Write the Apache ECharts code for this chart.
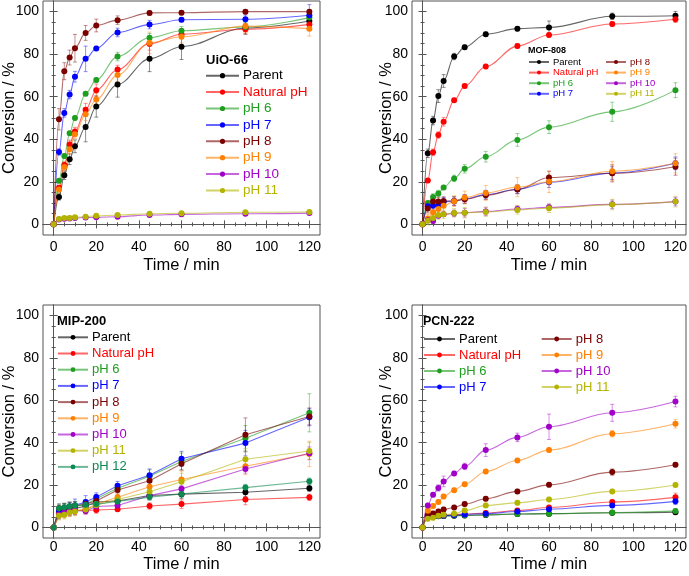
<!DOCTYPE html>
<html><head><meta charset="utf-8">
<script src="https://cdn.jsdelivr.net/npm/echarts@6/dist/echarts.min.js"></script>
<style>html,body{margin:0;padding:0;background:#fff}#c{width:689px;height:576px}</style>
</head><body><div id="c"></div>
<script>
// ---------- shared ----------
const times = [0, 2.5, 5, 7.5, 10, 15, 20, 30, 45, 60, 90, 120];
const xTickLabels = [0, 20, 40, 60, 80, 100, 120];
const yTickLabels = [0, 20, 40, 60, 80, 100];
const xMinorTicks = [5,10,15,25,30,35,45,50,55,65,70,75,85,90,95,105,110,115];
const yMinorTicks = [5,10,15,25,30,35,45,50,55,65,70,75,85,90,95];
const seriesColors = {
  'Parent':'#000000','Natural pH':'#ff0000','pH 6':'#1e9e1e','pH 7':'#0000ff',
  'pH 8':'#7a0000','pH 9':'#ff8000','pH 10':'#a000c8','pH 11':'#b4b400','pH 12':'#0b8a52'
};

// ---------- UiO-66 ----------
const uio_parent  = [0,12.9,23.1,30.6,36.7,45.8,55.4,65.8,77.8,83.5,92.3,95.6];
const uio_natural = [0,17.2,27.9,37.6,43.6,53.9,63.0,72.8,84.9,89.4,91.7,94.0];
const uio_pH6     = [0,20.5,32.1,42.8,50.0,61.4,67.9,78.9,87.7,91.0,92.8,97.2];
const uio_pH7     = [0,34.0,52.4,61.0,69.4,77.8,82.7,90.2,93.9,96.2,96.4,98.3];
const uio_pH8     = [0,49.4,72.0,78.4,82.8,90.0,93.5,96.0,99.4,99.5,100,100];
const uio_pH9     = [0,16.4,27.0,35.3,42.4,51.8,58.7,70.2,85.4,88.2,93.2,92.0];
const uio_pH10    = [0,2.3,2.6,2.8,3.0,3.2,3.3,3.6,4.4,4.7,5.0,5.3];
const uio_pH11    = [0,2.5,3.0,3.0,3.3,3.6,4.0,4.4,5.0,5.2,5.7,5.8];
const uio_err_parent  = [0,1.5,2,2.5,3,7,5,6,6,6,3,3];
const uio_err_natural = [0,1,1.5,2,2,3,3,2,3,2,2,2];
const uio_err_pH6     = [0,1,1,1,1,1,1,2,2,2,2,2];
const uio_err_pH7     = [0,1.5,2,2,2.5,6,1,2,2,1,2,5];
const uio_err_pH8     = [0,5,4,3.5,6.5,3.5,3,2,1,1,1,1];
const uio_err_pH9     = [0,1.5,2,2,2,3,3,3,5,3,3,3.5];
const uio_err_pH10    = [0,0.5,0.5,0.5,0.5,0.5,0.5,0.5,0.5,0.5,0.5,0.5];
const uio_err_pH11    = [0,0.5,0.5,0.5,0.5,0.5,0.5,0.5,0.5,0.5,0.5,0.5];

// ---------- MOF-808 ----------
const mof_parent  = [0,33.4,48.8,60.3,67.4,78.9,83.3,89.4,92.0,92.6,97.8,98.1];
const mof_natural = [0,20.6,33.9,42.0,48.2,58.3,65.0,74.2,83.8,89.0,94.2,96.4];
const mof_pH6     = [0,10.1,12.9,14.5,17.3,21.6,26.1,31.8,39.7,45.7,52.9,63.1];
const mof_pH7     = [0,8.5,8.7,9.1,10.6,11.0,12.0,14.0,16.5,19.8,24.1,28.7];
const mof_pH8     = [0,7.4,10.7,10.7,11.0,10.9,11.8,13.7,16.4,22.0,24.0,27.1];
const mof_pH9     = [0,2.7,5.7,7.2,8.7,10.9,12.6,14.8,17.5,20.0,25.0,28.7];
const mof_pH10    = [0,1.9,1.6,4.1,4.7,5.2,5.5,6.1,7.2,8.0,9.4,10.7];
const mof_pH11    = [0,1.7,3.0,4.4,4.7,5.4,5.5,5.8,6.8,7.6,9.3,10.7];
const mof_err_parent  = [0,2,2,3,3,1.5,1,1,1,3,1.5,2];
const mof_err_natural = [0,1,1.5,1.5,2,1,1,1,1,1,1,1.5];
const mof_err_pH6     = [0,1,1.5,1.5,1,1.5,2,2.5,3,3,4.5,3.5];
const mof_err_pH7     = [0,2,2,2,2,2,2,2,2,2.5,3,3];
const mof_err_pH8     = [0,2,2,2,2,2,2,2,2,3,4,4];
const mof_err_pH9     = [0,2,2,3,3,2.5,3,3.5,4.5,5,4.5,4.5];
const mof_err_pH10    = [0,1,1,1,1,1.5,2,2,1.5,1.5,2,2];
const mof_err_pH11    = [0,2,2,2,2,2,2.5,2,2,2,2.5,2.5];

// ---------- MIP-200 ----------
const mip_parent  = [0,7.0,8.0,8.5,9.0,10.0,12.0,12.5,15.1,15.7,16.6,18.5];
const mip_natural = [0,6.5,7.0,7.5,8.0,8.0,8.2,8.6,10.1,11.0,13.2,14.2];
const mip_pH6     = [0,8.2,9.1,9.4,9.9,10.8,13.5,18.5,24.2,31.1,42.1,54.1];
const mip_pH7     = [0,7.9,9.1,9.9,10.4,12.0,14.3,19.7,24.6,32.4,39.8,52.0];
const mip_pH8     = [0,9.0,9.3,9.8,10.2,11.0,12.5,17.7,22.0,30.1,43.7,52.4];
const mip_pH9     = [0,6.0,6.5,7.5,8.0,8.5,11.0,14.2,19.2,22.6,28.9,34.7];
const mip_pH10    = [0,6.0,7.0,7.5,8.0,7.7,9.9,10.3,15.0,18.2,27.6,35.0];
const mip_pH11    = [0,5.5,6.0,7.0,7.5,8.5,10.5,13.2,16.8,21.6,32.2,36.1];
const mip_pH12    = [0,9.1,9.5,10.0,10.3,10.7,11.0,12.2,14.3,15.8,18.8,21.8];
const mip_err_parent  = [0,2,2,2,2,2,2,2,2,2,2,1.5];
const mip_err_natural = [0,2,2,2,2,1.5,1.5,1,1.5,2,2.5,1.5];
const mip_err_pH6     = [0,2,2,2,2,2,2,2,3,4,6,9];
const mip_err_pH7     = [0,2,2,2,3,3,2,2,3,3.5,6,4];
const mip_err_pH8     = [0,2,2,2,2,2,2,2,2.5,3,8,4];
const mip_err_pH9     = [0,2,2,2,2,2,2,2,2,4,4,6];
const mip_err_pH10    = [0,2,2,2,2,1.5,1.5,1.5,1.5,1.5,2,3];
const mip_err_pH11    = [0,2,2,2,2,2,2,2,2,4,5,4];
const mip_err_pH12    = [0,2,2,2,2,2,2,1.5,1.5,1.5,1.5,1.5];

// ---------- PCN-222 ----------
const pcn_parent  = [0,5.0,5.2,5.3,5.4,5.5,5.6,5.9,6.3,6.5,6.9,7.2];
const pcn_natural = [0,5.3,5.5,5.5,5.7,6.0,6.3,6.8,8.0,9.4,12.0,14.2];
const pcn_pH6     = [0,5.1,5.3,5.4,5.5,5.6,5.7,6.0,6.3,6.5,7.0,7.8];
const pcn_pH7     = [0,5.2,5.4,5.5,5.6,5.8,6.1,6.5,7.5,8.6,10.4,12.3];
const pcn_pH8     = [0,6.0,6.6,7.5,8.5,9.4,11.0,13.5,17.0,20.1,26.1,29.6];
const pcn_pH9     = [0,7.9,10.1,12.0,14.6,17.6,20.4,26.4,31.6,36.5,44.2,48.9];
const pcn_pH10    = [0,10.4,15.4,18.6,21.7,25.5,28.8,36.5,42.5,47.5,54.1,59.4];
const pcn_pH11    = [0,4.1,4.6,5.5,6.0,6.4,8.0,10.4,11.6,13.2,17.0,20.0];
const pcn_err_parent  = [0,1,1,1,1,1,1,1,1,1,1,1];
const pcn_err_natural = [0,1,1,1,1,1,1,1,1,1,1,2];
const pcn_err_pH6     = [0,1,1,1,1,1,1,1,1,1,1,1];
const pcn_err_pH7     = [0,1,1,1,1,1,1,1,1,1,1,1.5];
const pcn_err_pH8     = [0,1,1,1,1,1,1,1,1,1,1.5,1];
const pcn_err_pH9     = [0,1,1,1,1,1,1,1,1,1,1.5,2];
const pcn_err_pH10    = [0,1,1,1.5,2.5,1,1.5,3,2,6,4,2.5];
const pcn_err_pH11    = [0,1,1,1,1,1,1,1,1,1,1,1];

// ---------- panels ----------
const FONT = '"Liberation Sans", Arial, sans-serif';
const panels = [
  { title:'UiO-66', grid:{left:43, top:1, width:277, height:234}, smooth:true, nameGapX:22, labelMarginX:5, nameGapY:25,
    series:[['Parent',uio_parent,uio_err_parent],['Natural pH',uio_natural,uio_err_natural],['pH 6',uio_pH6,uio_err_pH6],
            ['pH 7',uio_pH7,uio_err_pH7],['pH 8',uio_pH8,uio_err_pH8],['pH 9',uio_pH9,uio_err_pH9],
            ['pH 10',uio_pH10,uio_err_pH10],['pH 11',uio_pH11,uio_err_pH11]],
    titlePos:{left:206, top:52, size:13},
    legends:[{left:205, top:67.5, names:['Parent','Natural pH','pH 6','pH 7','pH 8','pH 9','pH 10','pH 11'], w:33, h:6.5, lh:16.4, fs:13.5}] },
  { title:'MOF-808', grid:{left:412, top:1, width:274, height:234}, smooth:true, nameGapX:22, labelMarginX:5, nameGapY:17,
    series:[['Parent',mof_parent,mof_err_parent],['Natural pH',mof_natural,mof_err_natural],['pH 6',mof_pH6,mof_err_pH6],
            ['pH 7',mof_pH7,mof_err_pH7],['pH 8',mof_pH8,mof_err_pH8],['pH 9',mof_pH9,mof_err_pH9],
            ['pH 10',mof_pH10,mof_err_pH10],['pH 11',mof_pH11,mof_err_pH11]],
    titlePos:{left:528, top:44.5, size:9},
    legends:[{left:528, top:56.7, names:['Parent','Natural pH','pH 6','pH 7'], w:20, h:5, lh:10.6, fs:9.5},
             {left:605, top:56.7, names:['pH 8','pH 9','pH 10','pH 11'], w:20, h:5, lh:10.6, fs:9.5}] },
  { title:'MIP-200', grid:{left:43, top:305, width:277, height:233}, smooth:false, nameGapX:18, labelMarginX:2.5, nameGapY:25,
    series:[['Parent',mip_parent,mip_err_parent],['Natural pH',mip_natural,mip_err_natural],['pH 6',mip_pH6,mip_err_pH6],
            ['pH 7',mip_pH7,mip_err_pH7],['pH 8',mip_pH8,mip_err_pH8],['pH 9',mip_pH9,mip_err_pH9],
            ['pH 10',mip_pH10,mip_err_pH10],['pH 11',mip_pH11,mip_err_pH11],['pH 12',mip_pH12,mip_err_pH12]],
    titlePos:{left:57, top:313, size:13},
    legends:[{left:57, top:329.2, names:['Parent','Natural pH','pH 6','pH 7','pH 8','pH 9','pH 10','pH 11','pH 12'], w:30, h:6, lh:16.2, fs:13}] },
  { title:'PCN-222', grid:{left:412, top:305, width:274, height:233}, smooth:true, nameGapX:18, labelMarginX:2.5, nameGapY:17,
    series:[['Parent',pcn_parent,pcn_err_parent],['Natural pH',pcn_natural,pcn_err_natural],['pH 6',pcn_pH6,pcn_err_pH6],
            ['pH 7',pcn_pH7,pcn_err_pH7],['pH 8',pcn_pH8,pcn_err_pH8],['pH 9',pcn_pH9,pcn_err_pH9],
            ['pH 10',pcn_pH10,pcn_err_pH10],['pH 11',pcn_pH11,pcn_err_pH11]],
    titlePos:{left:423, top:314, size:12.5},
    legends:[{left:423, top:331, names:['Parent','Natural pH','pH 6','pH 7'], w:31, h:6, lh:16, fs:13},
             {left:540.7, top:331, names:['pH 8','pH 9','pH 10','pH 11'], w:30, h:6, lh:16, fs:13}] }
];

const FRAME = '#555555';
const grids = [], xAxes = [], yAxes = [], series = [], legends = [], titles = [];

panels.forEach((p, i) => {
  grids.push(Object.assign({show:true, borderColor:FRAME, borderWidth:1, containLabel:false, outerBoundsMode:'none'}, p.grid));
  const xb = xAxes.length;
  const mkX = (pos, major, labels) => ({
    type:'value', gridIndex:i, position:pos, min:-5, max:125,
    axisLine:{show:major, lineStyle:{color:FRAME, width:1}},
    splitLine:{show:false},
    axisTick:{show:true, inside:true, length: major ? 4 : 2, customValues: major ? xTickLabels : xMinorTicks, lineStyle:{color:FRAME}},
    axisLabel:{show:labels, customValues:xTickLabels, fontSize:14, color:'#000', fontFamily:FONT, margin:p.labelMarginX},
    name: labels ? 'Time / min' : '', nameLocation:'middle', nameGap:p.nameGapX, nameMoveOverlap:false,
    nameTextStyle:{fontSize:16.5, color:'#000', fontFamily:FONT}
  });
  xAxes.push(mkX('bottom', true, true), mkX('bottom', false, false), mkX('top', true, false), mkX('top', false, false));
  const yb = yAxes.length;
  const mkY = (pos, major, labels) => ({
    type:'value', gridIndex:i, position:pos, min:-5, max:105,
    axisLine:{show:major, lineStyle:{color:FRAME, width:1}},
    splitLine:{show:false},
    axisTick:{show:true, inside:true, length: major ? 4 : 2, customValues: major ? yTickLabels : yMinorTicks, lineStyle:{color:FRAME}},
    axisLabel:{show:labels, customValues:yTickLabels, fontSize:14, color:'#000', fontFamily:FONT, margin:4},
    name: labels ? 'Conversion / %' : '', nameLocation:'middle', nameGap:p.nameGapY, nameMoveOverlap:false,
    nameTextStyle:{fontSize:16.5, color:'#000', fontFamily:FONT}
  });
  yAxes.push(mkY('left', true, true), mkY('left', false, false), mkY('right', true, false), mkY('right', false, false));

  p.series.forEach(([name, vals, errs]) => {
    const color = seriesColors[name];
    series.push({
      type:'custom', name:'err-' + i + '-' + name, xAxisIndex:xb, yAxisIndex:yb, silent:true, z:1,
      data: times.map((t, k) => [t, vals[k] - errs[k], vals[k] + errs[k], errs[k]]),
      encode:{x:0, y:[1,2]},
      renderItem:(params, api) => {
        if (api.value(3) <= 0) return null;
        const a = api.coord([api.value(0), api.value(1)]);
        const b = api.coord([api.value(0), api.value(2)]);
        const w = 2;
        const st = {stroke:color, lineWidth:0.8, opacity:0.55};
        return {type:'group', children:[
          {type:'line', shape:{x1:a[0], y1:a[1], x2:b[0], y2:b[1]}, style:st},
          {type:'line', shape:{x1:a[0]-w, y1:a[1], x2:a[0]+w, y2:a[1]}, style:st},
          {type:'line', shape:{x1:b[0]-w, y1:b[1], x2:b[0]+w, y2:b[1]}, style:st}
        ]};
      }
    });
    series.push({
      type:'line', name:name, xAxisIndex:xb, yAxisIndex:yb, z:3,
      data: times.map((t, k) => [t, vals[k]]),
      smooth: p.smooth ? 0.35 : false, smoothMonotone:'x',
      symbol:'circle', symbolSize:6, showSymbol:true,
      itemStyle:{color:color},
      lineStyle:{color:color, width:1.1, opacity:0.6},
      animation:false
    });
  });

  titles.push({text:p.title, left:p.titlePos.left, top:p.titlePos.top, padding:0,
    textStyle:{fontSize:p.titlePos.size, fontWeight:'bold', color:'#000', fontFamily:FONT, lineHeight:p.titlePos.size+3}});

  p.legends.forEach(lg => {
    legends.push({
      orient:'vertical', left:lg.left, top:lg.top, padding:0, itemGap:0,
      itemWidth:lg.w, itemHeight:lg.h, selectedMode:false,
      textStyle:{fontSize:lg.fs, fontFamily:FONT, lineHeight:lg.lh, padding:[0,0,0,-1]},
      data: lg.names.map(n => ({name:n, textStyle:{color:seriesColors[n]}}))
    });
  });
});

const chart = echarts.init(document.getElementById('c'), null, {renderer:'canvas'});
chart.setOption({
  animation:false,
  backgroundColor:'#fff',
  title:titles, grid:grids, xAxis:xAxes, yAxis:yAxes, legend:legends, series:series
});
</script></body></html>
